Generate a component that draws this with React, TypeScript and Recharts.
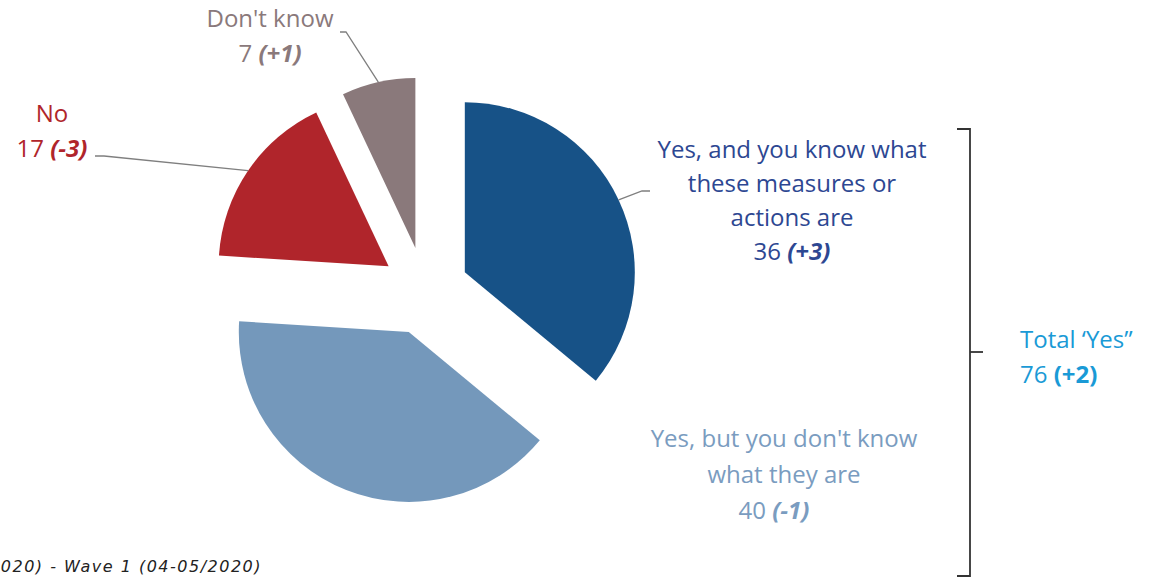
import React from 'react';
import { PieChart, Pie, Cell } from 'recharts';

// survey answers, clockwise from 12 o'clock
const categories = [
  'Yes, and you know what these measures or actions are',
  "Yes, but you don't know what they are",
  'No',
  "Don't know",
];
const values = [36, 40, 17, 7];
const changes = ['+3', '-1', '-3', '+1'];
const labelLines = [
  ['Yes, and you know what', 'these measures or', 'actions are'],
  ["Yes, but you don't know", 'what they are'],
  ['No'],
  ["Don't know"],
];
const totalLabel = 'Total \u2018Yes\u201d';
const totalYes = 76;
const totalYesChange = '+2';
const footnote = '020) - Wave 1 (04-05/2020)';

const sliceColors = ['#175287', '#7498BB', '#B0252B', '#8A797B'];
const textColors = ['#2D4792', '#7A9CC0', '#B0252B', '#8A797B'];

const W = 1150;
const H = 577;
const CX = 425;
const CY = 291;
const R = 170;
const EXPLODE = 44;
const FONT = '"Open Sans", sans-serif';

// label placement per slice (text anchor + leader elbow)
const labelLayout = [
  { x: 792, y: 158, lineH: 34, valueDx: 0, leader: [[642, 191], [650, 191]] },
  { x: 784, y: 447, lineH: 36, valueDx: -10, leader: null },
  { x: 52, y: 122, lineH: 35, valueDx: 0, leader: [[104, 156], [95, 156]] },
  { x: 270, y: 27, lineH: 35, valueDx: 0, leader: [[346, 32], [340, 32]] },
];

const data = categories.map((name, i) => ({ name, value: values[i] }));
const total = values.reduce((s, v) => s + v, 0);

// clockwise mid angle (deg from top) of each slice
const midAngles = values.map((v, i) => {
  const before = values.slice(0, i).reduce((s, x) => s + x, 0);
  return ((before + v / 2) / total) * 360;
});
const dirOf = (deg: number) => {
  const a = (deg * Math.PI) / 180;
  return [Math.sin(a), -Math.cos(a)];
};

export default function App() {
  return (
    <div style={{ position: 'absolute', left: 0, top: 0, width: W, height: H, background: '#fff' }}>
      <PieChart width={W} height={H} margin={{ top: 0, right: 0, bottom: 0, left: 0 }}>
        {data.map((_, i) => {
          const [dx, dy] = dirOf(midAngles[i]);
          return (
            <Pie
              key={`pie-${i}`}
              data={data}
              dataKey="value"
              cx={CX + dx * EXPLODE}
              cy={CY + dy * EXPLODE}
              innerRadius={0}
              outerRadius={R}
              startAngle={90}
              endAngle={-270}
              stroke="none"
              isAnimationActive={false}
            >
              {data.map((d, j) => (
                <Cell key={`cell-${j}`} fill={j === i ? sliceColors[j] : 'transparent'} stroke="none" />
              ))}
            </Pie>
          );
        })}
      </PieChart>

      <svg width={W} height={H} style={{ position: 'absolute', left: 0, top: 0, pointerEvents: 'none' }}>
        {/* leader lines + labels */}
        {labelLayout.map((l, i) => {
          const [dx, dy] = dirOf(midAngles[i]);
          const ax = CX + dx * (EXPLODE + R);
          const ay = CY + dy * (EXPLODE + R);
          const pts = l.leader ? [[ax, ay], ...l.leader].map((p) => p.join(',')).join(' ') : '';
          const lines = labelLines[i];
          return (
            <g key={`lbl-${i}`} fontFamily={FONT} fontSize={24} fill={textColors[i]} textAnchor="middle">
              {l.leader && <polyline points={pts} fill="none" stroke="#7f7f7f" strokeWidth={1.3} />}
              {lines.map((t, k) => (
                <text key={k} x={l.x} y={l.y + k * l.lineH}>
                  {t}
                </text>
              ))}
              <text x={l.x + l.valueDx} y={l.y + lines.length * l.lineH} style={{ whiteSpace: 'pre' }}>
                <tspan>{`${values[i]} `}</tspan>
                <tspan fontWeight={700} fontStyle="italic">{`(${changes[i]})`}</tspan>
              </text>
            </g>
          );
        })}

        {/* bracket for total yes */}
        <polyline points="957,129 970,129 970,576 957,576" fill="none" stroke="#333" strokeWidth={1.8} />
        <line x1={970} y1={352} x2={983} y2={352} stroke="#333" strokeWidth={1.8} />
        <g fontFamily={FONT} fontSize={24} fill="#1A9AD6">
          <text x={1020} y={348}>{totalLabel}</text>
          <text x={1020} y={383} style={{ whiteSpace: 'pre' }}>
            <tspan>{`${totalYes} `}</tspan>
            <tspan fontWeight={700}>{`(${totalYesChange})`}</tspan>
          </text>
        </g>

        <text
          x={262}
          y={572}
          textAnchor="end"
          fontFamily='"DejaVu Sans", sans-serif'
          fontStyle="italic"
          fontSize={16}
          letterSpacing={1.5}
          fill="#222"
        >
          {footnote}
        </text>
      </svg>
    </div>
  );
}
